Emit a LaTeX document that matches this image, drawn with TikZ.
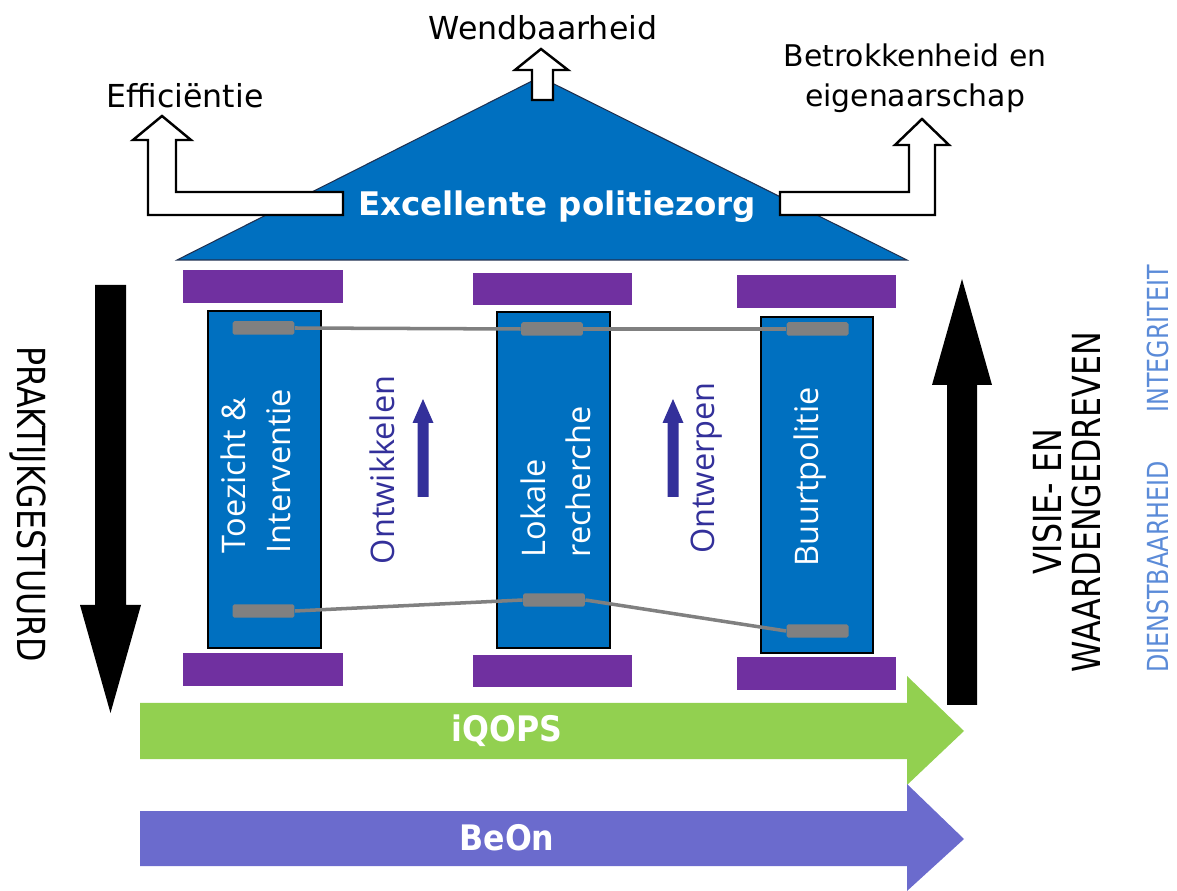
\documentclass[tikz,border=0pt]{standalone}
\usepackage{fontspec}
\setmainfont{DejaVu Sans}
\newfontfamily\condfont[FakeStretch=0.82]{DejaVu Sans}
\newfontfamily\barfont[FakeStretch=0.9]{DejaVu Sans}
\newfontfamily\pillarfont{Open Sans}

\definecolor{roofblue}{HTML}{0070C0}
\definecolor{roofedge}{HTML}{1F3050}
\definecolor{capviolet}{HTML}{7030A0}
\definecolor{beamgrey}{HTML}{808080}
\definecolor{growviolet}{HTML}{33309A}
\definecolor{valueblue}{HTML}{5B8BD8}
\definecolor{qopsgreen}{HTML}{92D050}
\definecolor{beonviolet}{HTML}{6B6BCD}

\begin{document}
\begin{tikzpicture}[x=0.02cm,y=-0.02cm,
   pillar/.style={fill=roofblue,draw=black,line width=0.8pt},
   capstone/.style={fill=capviolet},
   beam/.style={fill=beamgrey,rounded corners=1pt,inner sep=0pt,
      minimum width=1.24cm,minimum height=0.27cm},
   tie/.style={draw=beamgrey,line width=2pt},
   outarrow/.style={fill=white,draw=black,line width=1.4pt,line join=miter},
   toplabel/.style={font=\fontsize{18}{22.8}\selectfont,align=center},
   pillartext/.style={text=white,rotate=90,align=left,
      font=\pillarfont\fontsize{18.5}{25.6}\selectfont},
   growtext/.style={text=growviolet,rotate=90,
      font=\pillarfont\fontsize{18.5}{22}\selectfont},
   sidetext/.style={font=\condfont\fontsize{22}{22.2}\selectfont,align=center},
   valuetext/.style={text=valueblue,rotate=90,font=\condfont\fontsize{16.5}{20}\selectfont},
   bartext/.style={text=white,font=\barfont\bfseries\fontsize{20}{24}\selectfont}]
   \useasboundingbox (0,0) rectangle (1177,891) ;

   % roof
   \draw[fill=roofblue,draw=roofedge,line width=0.6pt] (177,260) -- (540,77) -- (907,260) -- cycle ;
   \draw[outarrow] (343,192) -- (176,192) -- (176,140) -- (191,140) -- (162,116)
      -- (133,140) -- (148,140) -- (148,215) -- (343,215) -- cycle ;
   \draw[outarrow] (780,192) -- (909,192) -- (909,145) -- (895,145) -- (922,119)
      -- (949,145) -- (935,145) -- (935,215) -- (780,215) -- cycle ;
   \draw[outarrow] (532,100) -- (532,70) -- (515,70) -- (541,49) -- (568,70)
      -- (553,70) -- (553,100) -- cycle ;
   \node[text=white,font=\bfseries\fontsize{18.5}{22}\selectfont] (roof) at (557,207) {Excellente politiezorg} ;
   \node[toplabel] (eff) at (185,96) {Efficiëntie} ;
   \node[toplabel] (wend) at (543,28) {Wendbaarheid} ;
   \node[toplabel,font=\fontsize{17}{22.8}\selectfont] (betr) at (915,78) {Betrokkenheid en\\eigenaarschap} ;

   % capitals and bases
   \fill[capstone] (183,270) rectangle (343,303) ;
   \fill[capstone] (473,273) rectangle (632,305) ;
   \fill[capstone] (737,275) rectangle (896,308) ;
   \fill[capstone] (183,653) rectangle (343,686) ;
   \fill[capstone] (473,655) rectangle (632,687) ;
   \fill[capstone] (737,657) rectangle (896,690) ;

   % pillars
   \draw[pillar] (208,311) rectangle (321,648) ;
   \draw[pillar] (497,312) rectangle (610,648) ;
   \draw[pillar] (761,317) rectangle (873,653) ;
   \node[pillartext] (toez) at (256,471) {Toezicht \&\\Interventie} ;
   \node[pillartext] (lok) at (556,482) {Lokale\\recherche} ;
   \node[pillartext] (buurt) at (810,477) {Buurtpolitie} ;

   % beams
   \node[beam] (tl) at (263.5,328) {} ;
   \node[beam] (tm) at (552,329) {} ;
   \node[beam] (tr) at (817.5,329) {} ;
   \node[beam] (bl) at (263.5,611) {} ;
   \node[beam] (bm) at (554,600) {} ;
   \node[beam] (br) at (817.5,631) {} ;
   \draw[tie] (tl.east) -- (tm.west) ;
   \draw[tie] (tm.east) -- (tr.west) ;
   \draw[tie] (bl.east) -- (bm.west) ;
   \draw[tie] (bm.east) -- (br.west) ;

   \node[growtext] (ontw) at (382,470) {Ontwikkelen} ;
   \node[growtext] (ontp) at (707,468) {Ontwerpen} ;
   \fill[growviolet] (417.5,497) -- (417.5,423) -- (412.5,423) -- (423,399)
      -- (433.5,423) -- (428.5,423) -- (428.5,497) -- cycle ;
   \fill[growviolet] (667.5,497) -- (667.5,423) -- (662.5,423) -- (673,399)
      -- (683.5,423) -- (678.5,423) -- (678.5,497) -- cycle ;

   % side arrows
   \fill[black] (95,285) -- (126,285) -- (126,605) -- (141,605) -- (110.5,713)
      -- (80,605) -- (95,605) -- cycle ;
   \fill[black] (947,705) -- (977,705) -- (977,385) -- (992,385) -- (962,279)
      -- (932,385) -- (947,385) -- cycle ;
   \node[sidetext,rotate=-90] (prak) at (28,504) {PRAKTIJKGESTUURD} ;
   \node[sidetext,rotate=90] (visie) at (1067,502) {VISIE- EN\\WAARDENGEDREVEN} ;
   \node[valuetext] (dienst) at (1158,567) {DIENSTBAARHEID} ;
   \node[valuetext] (integr) at (1158,339) {INTEGRITEIT} ;

   % bottom arrows
   \fill[qopsgreen] (140,703) -- (907,703) -- (907,676) -- (964,731) -- (907,785)
      -- (907,759) -- (140,759) -- cycle ;
   \fill[beonviolet] (140,811) -- (907,811) -- (907,784) -- (964,839) -- (907,891)
      -- (907,866) -- (140,866) -- cycle ;
   \node[bartext] (iqops) at (507,731) {iQOPS} ;
   \node[bartext] (beon) at (507,838) {BeOn} ;
\end{tikzpicture}
\end{document}
